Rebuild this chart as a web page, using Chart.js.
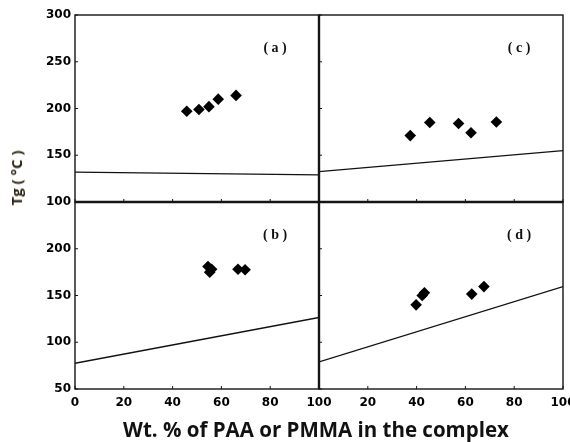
<!DOCTYPE html>
<html>
<head>
<meta charset="utf-8">
<script src="https://cdn.jsdelivr.net/npm/chart.js@4/dist/chart.umd.min.js"></script>
<style>
  html, body { margin: 0; padding: 0; background: #fff; }
  #wrap { position: relative; width: 570px; height: 442px; overflow: hidden; }
  #chart { position: absolute; left: 0; top: 0; }
  .ytitle {
    position: absolute; left: 16px; top: 178px;
    transform: translate(-50%, -50%) rotate(-90deg);
    font: bold 15px "Open Sans", sans-serif; color: #2b2410; white-space: nowrap;
  }
  .xtitle {
    position: absolute; left: 316px; top: 429px;
    transform: translate(-50%, -50%);
    font: bold 20.5px "Open Sans", sans-serif; color: #111; white-space: nowrap;
  }
</style>
</head>
<body>
<div id="wrap">
  <canvas id="chart" width="570" height="442"></canvas>
  <div class="ytitle">Tg ( °C )</div>
  <div class="xtitle">Wt. % of PAA or PMMA in the complex</div>
</div>
<script>
// tick values
const xTicks = [0, 20, 40, 60, 80, 100]
const yTicksTop = [100, 150, 200, 250, 300]
const yTicksBottom = [50, 100, 150, 200, 250]

const panelLabels = ["( a )", "( c )", "( b )", "( d )"]

// panel (a)
const aX = [45.8, 50.8, 54.9, 58.7, 66.0]
const aY = [197, 199, 202, 210, 214]
const aLineY = [132, 129]

// panel (c)
const cX = [37.4, 45.4, 57.2, 62.3, 72.7]
const cY = [171, 185, 184, 174, 185.5]
const cLineY = [132.5, 155]

// panel (b)
const bX = [54.5, 56.0, 55.2, 66.8, 69.7]
const bY = [181, 178, 175, 178, 177.5]
const bLineY = [77.5, 126.5]

// panel (d)
const dX = [39.8, 42.3, 43.2, 62.6, 67.6]
const dY = [140, 150, 153, 151.5, 159.5]
const dLineY = [79, 159.5]

const lineX = [0, 100]

const pts = (xs, ys) => xs.map((x, i) => ({ x: x, y: ys[i] }))

function markers(xs, ys, xAxisID, yAxisID) {
  return {
    data: pts(xs, ys),
    xAxisID, yAxisID,
    showLine: false,
    pointStyle: "rectRot",
    pointRadius: 5.8,
    backgroundColor: "#000",
    borderColor: "#000",
    borderWidth: 0
  }
}

function fitLine(ys, xAxisID, yAxisID) {
  return {
    data: pts(lineX, ys),
    xAxisID, yAxisID,
    showLine: true,
    pointRadius: 0,
    borderColor: "#111",
    borderWidth: 1.4
  }
}

const tickFont = { family: "DejaVu Sans", size: 12, weight: "bold" }

function noPad(s) {
  s.paddingLeft = 0
  s.paddingRight = 0
  s.paddingTop = 0
  s.paddingBottom = 0
}

function yScale(min, max, values, hide) {
  return {
    type: "linear",
    position: "left",
    stack: "tg",
    stackWeight: 1,
    min, max,
    afterBuildTicks(s) { s.ticks = values.map(v => ({ value: v })) },
    afterFit(s) { s.width = 40; noPad(s) },
    ticks: {
      padding: 4,
      autoSkip: false,
      color: "#000",
      font: tickFont,
      callback: v => (v === hide ? "" : v)
    },
    grid: { display: false, drawTicks: false },
    border: { display: false }
  }
}

function xScale(hide) {
  return {
    type: "linear",
    position: "bottom",
    stack: "wt",
    stackWeight: 1,
    min: 0, max: 100,
    afterBuildTicks(s) { s.ticks = xTicks.map(v => ({ value: v })) },
    afterFit(s) { s.height = 20; noPad(s) },
    ticks: {
      padding: 7,
      autoSkip: false,
      color: "#000",
      font: tickFont,
      maxRotation: 0,
      callback: v => (v === hide ? "" : v)
    },
    grid: { display: false, drawTicks: false },
    border: { display: false }
  }
}

const panelPlugin = {
  id: "panels",
  afterDatasetsDraw(chart) {
    const ctx = chart.ctx
    const s = chart.scales
    const panels = [[s.xL, s.yT, yTicksTop], [s.xR, s.yT, yTicksTop], [s.xL, s.yB, yTicksBottom], [s.xR, s.yB, yTicksBottom]]

    ctx.save()
    ctx.strokeStyle = "#151515"
    panels.forEach(([x, y, yv], i) => {
      ctx.lineWidth = 1.4
      ctx.strokeRect(x.left, y.top, x.right - x.left, y.bottom - y.top)

      // small inward tick marks
      ctx.lineWidth = 1
      ctx.beginPath()
      yv.forEach(v => {
        const py = y.getPixelForValue(v)
        ctx.moveTo(x.left, py)
        ctx.lineTo(x.left + 3, py)
      })
      xTicks.forEach(v => {
        const px = x.getPixelForValue(v)
        ctx.moveTo(px, y.bottom)
        ctx.lineTo(px, y.bottom - 3)
      })
      ctx.stroke()

      ctx.fillStyle = "#111"
      ctx.font = "bold 14px 'Liberation Serif'"
      ctx.textAlign = "center"
      ctx.textBaseline = "middle"
      ctx.fillText(panelLabels[i], x.left + (x.right - x.left) * 0.82, y.top + (y.bottom - y.top) * 0.18)
    })

    // heavier dividers between the panels
    ctx.lineWidth = 2.4
    ctx.beginPath()
    ctx.moveTo(s.xL.left, s.yB.top)
    ctx.lineTo(s.xR.right, s.yB.top)
    ctx.moveTo(s.xR.left, s.yT.top)
    ctx.lineTo(s.xR.left, s.yB.bottom)
    ctx.stroke()
    ctx.restore()
  }
}

new Chart(document.getElementById("chart"), {
  type: "scatter",
  data: {
    datasets: [
      markers(aX, aY, "xL", "yT"),
      fitLine(aLineY, "xL", "yT"),
      markers(cX, cY, "xR", "yT"),
      fitLine(cLineY, "xR", "yT"),
      markers(bX, bY, "xL", "yB"),
      fitLine(bLineY, "xL", "yB"),
      markers(dX, dY, "xR", "yB"),
      fitLine(dLineY, "xR", "yB")
    ]
  },
  options: {
    responsive: false,
    animation: false,
    layout: { padding: { left: 35, right: 7, top: 15, bottom: 33 } },
    plugins: {
      legend: { display: false },
      tooltip: { enabled: false }
    },
    scales: {
      yB: yScale(50, 250, yTicksBottom, 250),
      yT: yScale(100, 300, yTicksTop, null),
      xL: xScale(null),
      xR: xScale(0)
    }
  },
  plugins: [panelPlugin]
})
</script>
</body>
</html>
